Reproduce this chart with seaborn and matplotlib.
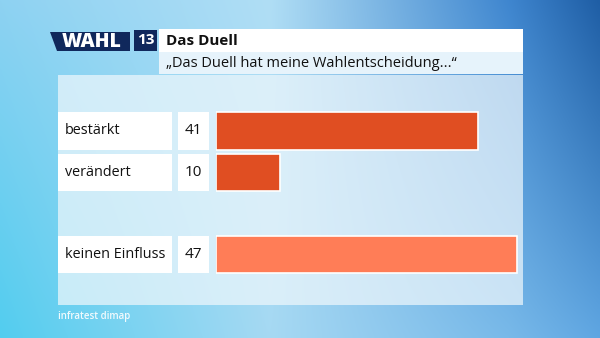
import numpy as np
import matplotlib
matplotlib.use("Agg")
import matplotlib.pyplot as plt
import matplotlib.transforms as mtransforms
from matplotlib.patches import Rectangle, Polygon
from matplotlib.colors import to_rgb
import seaborn as sns
import pandas as pd

# ---- data ----
categories = ["bestärkt", "verändert", " ", "keinen Einfluss"]
values = [41, 10, np.nan, 47]
bar_colors = ["#e04e22", "#e04e22", "#e04e22", "#ff7d57"]
title = "Das Duell"
subtitle = "\u201eDas Duell hat meine Wahlentscheidung...\u201c"
source = "infratest dimap"
logo_text = "WAHL"
logo_year = "13"

sns.set_theme(style="white")
plt.rcParams["font.family"] = ["Open Sans", "DejaVu Sans"]

W, H = 600, 338
fig = plt.figure(figsize=(W / 100, H / 100), dpi=100)

# ---- background gradient ----
bg = fig.add_axes([0, 0, 1, 1])
bg.set_xlim(0, W)
bg.set_ylim(H, 0)
bg.axis("off")
nx, ny = 300, 170
xs = np.linspace(0, 1, nx)
ys = np.linspace(0, 1, ny)
cx = [0.0, 0.45, 0.85, 1.0]
top_c = np.array([to_rgb(c) for c in ["#8ed2f2", "#b0def5", "#3f86cf", "#1f5ea5"]])
bot_c = np.array([to_rgb(c) for c in ["#52cdef", "#a6d9f3", "#78b9e9", "#5fa6e2"]])
top_row = np.stack([np.interp(xs, cx, top_c[:, k]) for k in range(3)], axis=-1)
bot_row = np.stack([np.interp(xs, cx, bot_c[:, k]) for k in range(3)], axis=-1)
img = top_row[None, :, :] * (1 - ys[:, None, None]) + bot_row[None, :, :] * ys[:, None, None]
bg.imshow(np.clip(img, 0, 1), extent=[0, W, H, 0], aspect="auto", interpolation="bicubic", zorder=0)

# panel
bg.add_patch(Rectangle((58, 75), 465, 230, facecolor="#eef7fc", alpha=0.72, edgecolor="none", zorder=1))
# header
bg.add_patch(Rectangle((159, 29), 364, 23, facecolor="white", edgecolor="none", zorder=2))
bg.add_patch(Rectangle((159, 52), 364, 22, facecolor="#e6f3fb", edgecolor="none", zorder=2))
bg.text(166, 41, title, fontsize=11, fontweight="bold", color="#111111", va="center", ha="left", zorder=3)
bg.text(166, 63.5, subtitle, fontsize=10.5, color="#111111", va="center", ha="left", zorder=3)
# logo
bg.add_patch(Polygon([(50, 32), (130, 32), (130, 51), (57, 51)], closed=True, facecolor="#10285c", edgecolor="none", zorder=2))
bg.text(92, 42, logo_text, fontsize=14, fontweight="heavy", color="white", va="center", ha="center", zorder=3)
bg.add_patch(Rectangle((134, 30), 23, 21, facecolor="#10285c", edgecolor="none", zorder=2))
bg.text(145.5, 40.5, logo_year, fontsize=11, fontweight="bold", color="white", va="center", ha="center", zorder=3)
bg.text(58, 316, source, fontsize=7, fontweight="semibold", color="white", alpha=0.9, va="center", ha="left", zorder=3)

# ---- bars ----
x0, x1 = 216, 536
y_top, y_bot = 110.4, 275.1
ax = fig.add_axes([x0 / W, 1 - y_bot / H, (x1 - x0) / W, (y_bot - y_top) / H])
ax.patch.set_alpha(0)
df = pd.DataFrame({"cat": categories, "val": values})
sns.barplot(data=df, x="val", y="cat", hue="cat", order=categories, hue_order=categories,
            palette=bar_colors, legend=False, ax=ax, width=0.9, edgecolor="white", linewidth=1.2,
            saturation=1)
ax.set_xlim(0, 50)
ax.set_ylim(len(categories) - 0.5, -0.5)
ax.axis("off")

trans = mtransforms.blended_transform_factory(fig.transFigure, ax.transData)
for i, (cat, v) in enumerate(zip(categories, values)):
    if np.isnan(v):
        continue
    ax.add_patch(Rectangle((58 / W, i - 0.45), (172 - 58) / W, 0.9, transform=trans,
                           facecolor="white", edgecolor="none", clip_on=False, zorder=2))
    ax.add_patch(Rectangle((178 / W, i - 0.45), (209 - 178) / W, 0.9, transform=trans,
                           facecolor="white", edgecolor="none", clip_on=False, zorder=2))
    ax.text(65 / W, i, cat, transform=trans, fontsize=10.4, fontweight="medium", color="#111111",
            va="center", ha="left", zorder=3)
    ax.text(193.5 / W, i, f"{int(v)}", transform=trans, fontsize=11, fontweight="medium",
            color="#111111", va="center", ha="center", zorder=3)

fig.savefig("out.png", dpi=100)
